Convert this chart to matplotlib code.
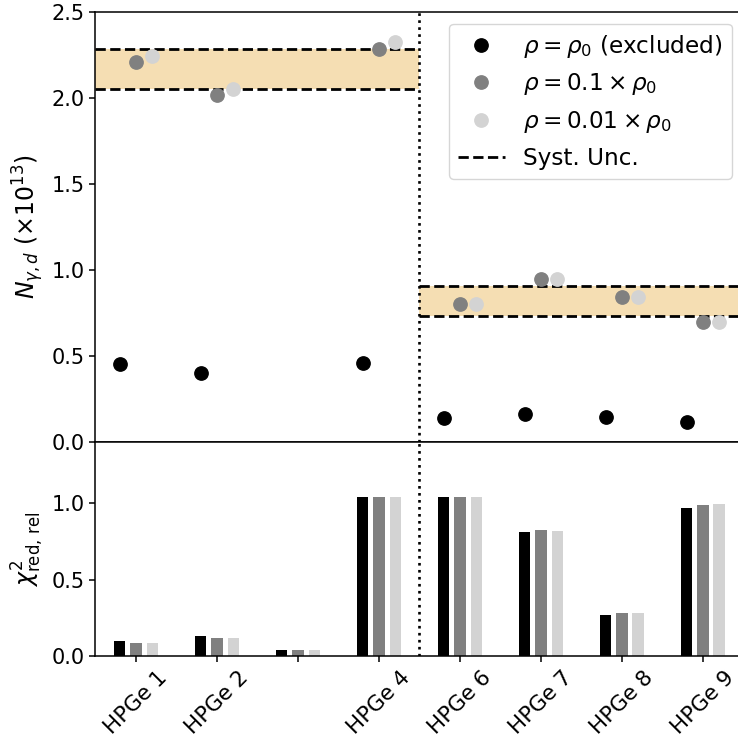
import numpy as np
import matplotlib
matplotlib.use("Agg")
import matplotlib.pyplot as plt

plt.rcParams.update({
    "font.size": 15,
    "axes.labelsize": 17,
    "legend.fontsize": 16.7,
    "xtick.labelsize": 15.5,
    "axes.linewidth": 1.1,
    "xtick.major.size": 4.4,
    "ytick.major.size": 4.4,
    "xtick.major.width": 1.1,
    "ytick.major.width": 1.1,
})

# Detector channels (the third slot carries no label)
detectors = ["HPGe 1", "HPGe 2", "", "HPGe 4", "HPGe 6", "HPGe 7", "HPGe 8", "HPGe 9"]

# Dark-photon yield N_{gamma,d} in units of 1e13 for each density hypothesis
n_rho0 = [0.453, 0.402, np.nan, 0.459, 0.136, 0.161, 0.142, 0.113]
n_rho01 = [2.207, 2.015, np.nan, 2.286, 0.800, 0.944, 0.841, 0.695]
n_rho001 = [2.244, 2.055, np.nan, 2.327, 0.800, 0.944, 0.841, 0.695]

# Relative reduced chi-square for each density hypothesis
chi_rho0 = [0.100, 0.133, 0.037, 1.037, 1.037, 0.808, 0.270, 0.965]
chi_rho01 = [0.083, 0.116, 0.037, 1.037, 1.037, 0.824, 0.279, 0.985]
chi_rho001 = [0.087, 0.120, 0.037, 1.037, 1.037, 0.817, 0.279, 0.995]

# Systematic uncertainty bands (lower, upper) for the two detector groups
band_left = (2.055, 2.286)
band_right = (0.730, 0.905)
group_split = 3.5

labels = [r"$\rho = \rho_0$ (excluded)",
          r"$\rho = 0.1\times\rho_0$",
          r"$\rho = 0.01\times\rho_0$"]
colors = ["black", "gray", "lightgray"]
offsets = [-0.2, 0.0, 0.2]

fig = plt.figure(figsize=(7.38, 7.46), dpi=100)
left, width = 0.1294, 0.878
ax1 = fig.add_axes([left, 0.4078, width, 0.5761])
ax2 = fig.add_axes([left, 0.1206, width, 0.2872], sharex=ax1)

x = np.arange(len(detectors))
xmin, xmax = -0.5, 7.5

# Upper panel: yields with systematic bands
ax1.fill_between([xmin, group_split], band_left[0], band_left[1],
                 color="wheat", lw=0, zorder=0)
ax1.fill_between([group_split, xmax], band_right[0], band_right[1],
                 color="wheat", lw=0, zorder=0)
ax1.hlines(band_left, xmin, group_split, colors="black", linestyles="--", lw=2.0, zorder=1)
ax1.hlines(band_right, group_split, xmax, colors="black", linestyles="--", lw=2.0, zorder=1)

for vals, c, off, lab in zip([n_rho0, n_rho01, n_rho001], colors, offsets, labels):
    ax1.plot(x + off, vals, "o", color=c, ms=9.6, ls="none", label=lab, zorder=3)
ax1.plot([], [], "k--", lw=2.0, label="Syst. Unc.")

ax1.axvline(group_split, color="black", ls=":", lw=1.9)
ax1.set_ylim(0, 2.5)
ax1.set_yticks([0, 0.5, 1.0, 1.5, 2.0, 2.5])
ax1.set_ylabel(r"$N_{\gamma,d}$ ($\times10^{13}$)")
ax1.tick_params(axis="x", bottom=False, labelbottom=False)
ax1.legend(loc="upper right")

# Lower panel: relative reduced chi-square
for vals, c, off in zip([chi_rho0, chi_rho01, chi_rho001], colors, offsets):
    ax2.bar(x + off, vals, width=0.14, color=c)
ax2.axvline(group_split, color="black", ls=":", lw=1.9)
ax2.set_ylim(0, 1.4)
ax2.set_yticks([0, 0.5, 1.0])
ax2.set_ylabel(r"$\chi^2_{\rm red,\,rel}$")
ax2.set_xlim(xmin, xmax)
ax2.set_xticks(x)
ax2.set_xticklabels(detectors, rotation=45)

fig.savefig("out.png", dpi=100)
